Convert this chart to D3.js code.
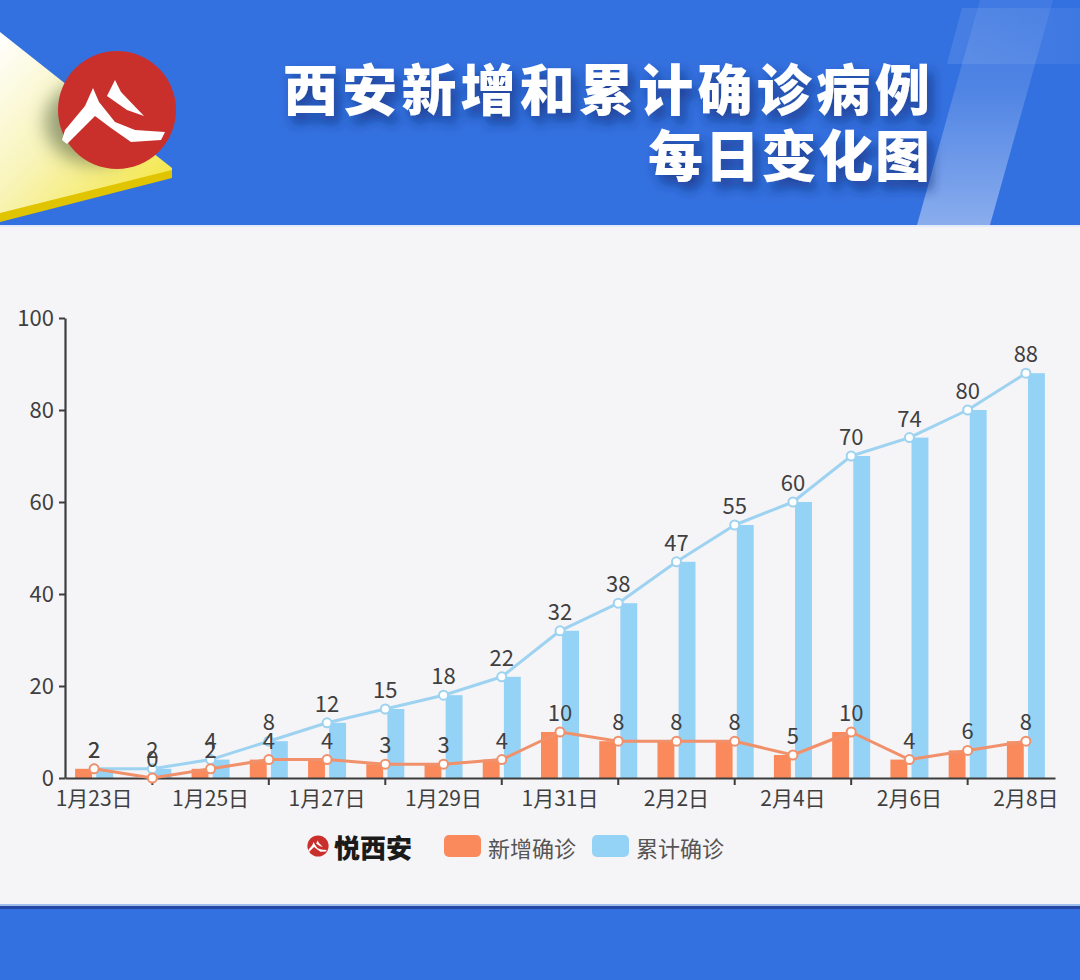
<!DOCTYPE html>
<html><head><meta charset="utf-8">
<script src="https://cdn.jsdelivr.net/npm/d3@7"></script>
<style>html,body{margin:0;padding:0;background:#f5f4f7;} svg{display:block;}</style>
</head><body>
<svg id="chart" width="1080" height="980"></svg>
<script>
const categories = ["1月23日","1月24日","1月25日","1月26日","1月27日","1月28日","1月29日","1月30日","1月31日",
  "2月1日","2月2日","2月3日","2月4日","2月5日","2月6日","2月7日","2月8日"];
const newCases = [2,0,2,4,4,3,3,4,10,8,8,8,5,10,4,6,8];
const totalCases = [2,2,4,8,12,15,18,22,32,38,47,55,60,70,74,80,88];
const yTicks = [0,20,40,60,80,100];
const seriesNames = ["新增确诊","累计确诊"];
const titleLines = ["西安新增和累计确诊病例","每日变化图"];
const brandName = "悦西安";

const W = 1080, H = 980;
const FONT = "'Noto Sans CJK SC','Noto Sans',sans-serif";
const svg = d3.select("#chart");
const defs = svg.append("defs");

// ---------- backgrounds ----------
svg.append("rect").attr("x",0).attr("y",0).attr("width",W).attr("height",H).attr("fill","#f5f4f7");
svg.append("rect").attr("x",0).attr("y",0).attr("width",W).attr("height",225).attr("fill","#3471e0");
svg.append("rect").attr("x",0).attr("y",225).attr("width",W).attr("height",2).attr("fill","#e4ebf8");
svg.append("rect").attr("x",0).attr("y",904).attr("width",W).attr("height",2).attr("fill","#9fc0ee");
svg.append("rect").attr("x",0).attr("y",906).attr("width",W).attr("height",3).attr("fill","#2447a6");
svg.append("rect").attr("x",0).attr("y",909).attr("width",W).attr("height",H-909).attr("fill","#3471e0");

// ---------- header decorations ----------
const gPlus = defs.append("linearGradient").attr("id","plusG").attr("x1",0).attr("y1",1).attr("x2",0).attr("y2",0);
gPlus.append("stop").attr("offset","0%").attr("stop-color","#ffffff").attr("stop-opacity",0.42);
gPlus.append("stop").attr("offset","60%").attr("stop-color","#ffffff").attr("stop-opacity",0.14);
gPlus.append("stop").attr("offset","100%").attr("stop-color","#ffffff").attr("stop-opacity",0.06);
svg.append("path").attr("d","M917,225 L990,225 L1053,0 L980,0 Z").attr("fill","url(#plusG)");
const gArm = defs.append("linearGradient").attr("id","armG").attr("x1",0).attr("y1",0).attr("x2",1).attr("y2",0);
gArm.append("stop").attr("offset","0%").attr("stop-color","#ffffff").attr("stop-opacity",0.1);
gArm.append("stop").attr("offset","100%").attr("stop-color","#ffffff").attr("stop-opacity",0.05);
svg.append("path").attr("d","M962,8 L1080,8 L1080,64 L947,64 Z").attr("fill","url(#armG)");

// yellow plate
const gPlate = defs.append("linearGradient").attr("id","plateG").attr("x1",0).attr("y1",0).attr("x2",1).attr("y2",1);
gPlate.append("stop").attr("offset","0%").attr("stop-color","#ffffff");
gPlate.append("stop").attr("offset","45%").attr("stop-color","#f8f4b8");
gPlate.append("stop").attr("offset","100%").attr("stop-color","#f3e431");
svg.append("path").attr("d","M0,32 L172,168 L172,172 L0,214 Z").attr("fill","url(#plateG)");
svg.append("path").attr("d","M0,213 L172,170 L172,178 L0,222 Z").attr("fill","#e1c400");

// shadow of logo
const blur = defs.append("filter").attr("id","blurF").attr("x","-50%").attr("y","-50%").attr("width","200%").attr("height","200%");
blur.append("feGaussianBlur").attr("stdDeviation",9);
svg.append("ellipse").attr("cx",95).attr("cy",122).attr("rx",50).attr("ry",42)
  .attr("fill","#4a5a3a").attr("opacity",0.55).attr("filter","url(#blurF)");

// red logo
const logo = svg.append("g").attr("transform","translate(117,110)");
logo.append("circle").attr("r",59).attr("fill","#c9302c");
logo.append("path").attr("fill","#fff")
  .attr("d","M-55,30 L-52,20 L-32,-4 L-24,-22 L-18,-8 L-2,12 L18,20 L48,22 L44,30 L14,32 L-6,18 L-22,6 L-50,34 Z");
logo.append("path").attr("fill","#fff")
  .attr("d","M-10,-14 L-2,-30 L4,-18 L27,6 L10,0 Z");

// title
const shadow = defs.append("filter").attr("id","tShadow").attr("x","-10%").attr("y","-30%").attr("width","130%").attr("height","180%");
shadow.append("feDropShadow").attr("dx",5).attr("dy",8).attr("stdDeviation",6)
  .attr("flood-color","#0d2a70").attr("flood-opacity",0.7);
svg.append("text").attr("x",283).attr("y",86).attr("dominant-baseline","central")
  .attr("textLength",647).attr("lengthAdjust","spacing")
  .attr("font-family",FONT).attr("font-weight",900).attr("font-size",55)
  .attr("fill","#ffffff").attr("filter","url(#tShadow)").text(titleLines[0]);
svg.append("text").attr("x",648).attr("y",152).attr("dominant-baseline","central")
  .attr("textLength",282).attr("lengthAdjust","spacing")
  .attr("font-family",FONT).attr("font-weight",900).attr("font-size",55)
  .attr("fill","#ffffff").attr("filter","url(#tShadow)").text(titleLines[1]);

// ---------- chart ----------
const x0 = 65, x1 = 1055, yTop = 318, yBot = 778;
const x = d3.scaleBand().domain(categories).range([x0, x1]).padding(0);
const bw = x.bandwidth();
const inner = d3.scaleBand().domain(["new","total"]).range([bw/2-19, bw/2+19]).paddingInner(0.2).paddingOuter(0);
const y = d3.scaleLinear().domain([0,100]).range([yBot, yTop]);
const cx = c => x(c) + bw/2;

const colNewBar = "#fa8a5b", colTotBar = "#94d2f6";
const colNewLine = "#f0916b", colTotLine = "#9dd3f1";

const chart = svg.append("g");

// bars
chart.selectAll(".barNew").data(categories).join("rect")
  .attr("x", c => x(c) + inner("new")).attr("width", inner.bandwidth())
  .attr("y", (c,i) => y(newCases[i])).attr("height", (c,i) => yBot - y(newCases[i]))
  .attr("fill", colNewBar);
chart.selectAll(".barTot").data(categories).join("rect")
  .attr("x", c => x(c) + inner("total")).attr("width", inner.bandwidth())
  .attr("y", (c,i) => y(totalCases[i])).attr("height", (c,i) => yBot - y(totalCases[i]))
  .attr("fill", colTotBar);

// axes
const yAxis = d3.axisLeft(y).tickValues(yTicks).tickSize(6).tickSizeOuter(0).tickPadding(5);
const gy = chart.append("g").attr("transform",`translate(${x0},0)`).call(yAxis);
gy.select(".domain").attr("stroke","#3d3d3d").attr("stroke-width",2.2);
gy.selectAll(".tick line").attr("stroke","#3d3d3d").attr("stroke-width",2);
gy.selectAll(".tick text").attr("font-family",FONT).attr("font-size",22).attr("fill","#3f3f3f");

const xAxis = d3.axisBottom(x).tickValues(categories).tickSize(7).tickSizeOuter(0).tickPadding(6);
const gx = chart.append("g").attr("transform",`translate(0,${yBot})`).call(xAxis);
gx.select(".domain").attr("stroke","#3d3d3d").attr("stroke-width",2.2);
gx.selectAll(".tick line").attr("stroke","#3d3d3d").attr("stroke-width",2)
  .attr("display",(d,i) => i % 2 === 1 ? null : "none");
gx.selectAll(".tick text").attr("font-family",FONT).attr("font-size",21).attr("fill","#3f3f3f")
  .attr("display",(d,i) => i % 2 === 0 ? null : "none");

// lines
function drawSeries(vals, col) {
  const line = d3.line().x((v,i) => cx(categories[i])).y(v => y(v));
  chart.append("path").datum(vals).attr("d", line).attr("fill","none")
    .attr("stroke", col).attr("stroke-width",3).attr("stroke-linejoin","round");
  chart.append("g").selectAll("circle").data(vals).join("circle")
    .attr("cx",(v,i) => cx(categories[i])).attr("cy", v => y(v)).attr("r",4.5)
    .attr("fill","#fff").attr("stroke", col).attr("stroke-width",2);
}
function drawLabels(vals) {
  chart.append("g").selectAll("text").data(vals).join("text")
    .attr("x",(v,i) => cx(categories[i])).attr("y", v => y(v) - 11)
    .attr("text-anchor","middle").attr("font-family",FONT).attr("font-size",22).attr("fill","#3f3f3f")
    .text(v => v);
}
drawSeries(totalCases, colTotLine);
drawSeries(newCases, colNewLine);
drawLabels(totalCases);
drawLabels(newCases);

// ---------- legend ----------
const lg = svg.append("g");
const mini = lg.append("g").attr("transform","translate(318,846) scale(0.18)");
mini.append("circle").attr("r",59).attr("fill","#c9302c");
mini.append("path").attr("fill","#fff")
  .attr("d","M-55,30 L-52,20 L-32,-4 L-24,-22 L-18,-8 L-2,12 L18,20 L48,22 L44,30 L14,32 L-6,18 L-22,6 L-50,34 Z");
mini.append("path").attr("fill","#fff").attr("d","M-10,-14 L-2,-30 L4,-18 L27,6 L10,0 Z");
lg.append("text").attr("x",334).attr("y",846).attr("dominant-baseline","central")
  .attr("font-family",FONT).attr("font-weight",900).attr("font-size",26).attr("fill","#1a1a1a").text(brandName);

const legendItems = [
  {name: seriesNames[0], color: colNewBar, x: 444},
  {name: seriesNames[1], color: colTotBar, x: 592}
];
legendItems.forEach(it => {
  lg.append("rect").attr("x",it.x).attr("y",835).attr("width",37).attr("height",22).attr("rx",5)
    .attr("fill",it.color);
  lg.append("text").attr("x",it.x+44).attr("y",847).attr("dominant-baseline","central")
    .attr("font-family",FONT).attr("font-size",22).attr("fill","#555").text(it.name);
});
</script>
</body></html>
